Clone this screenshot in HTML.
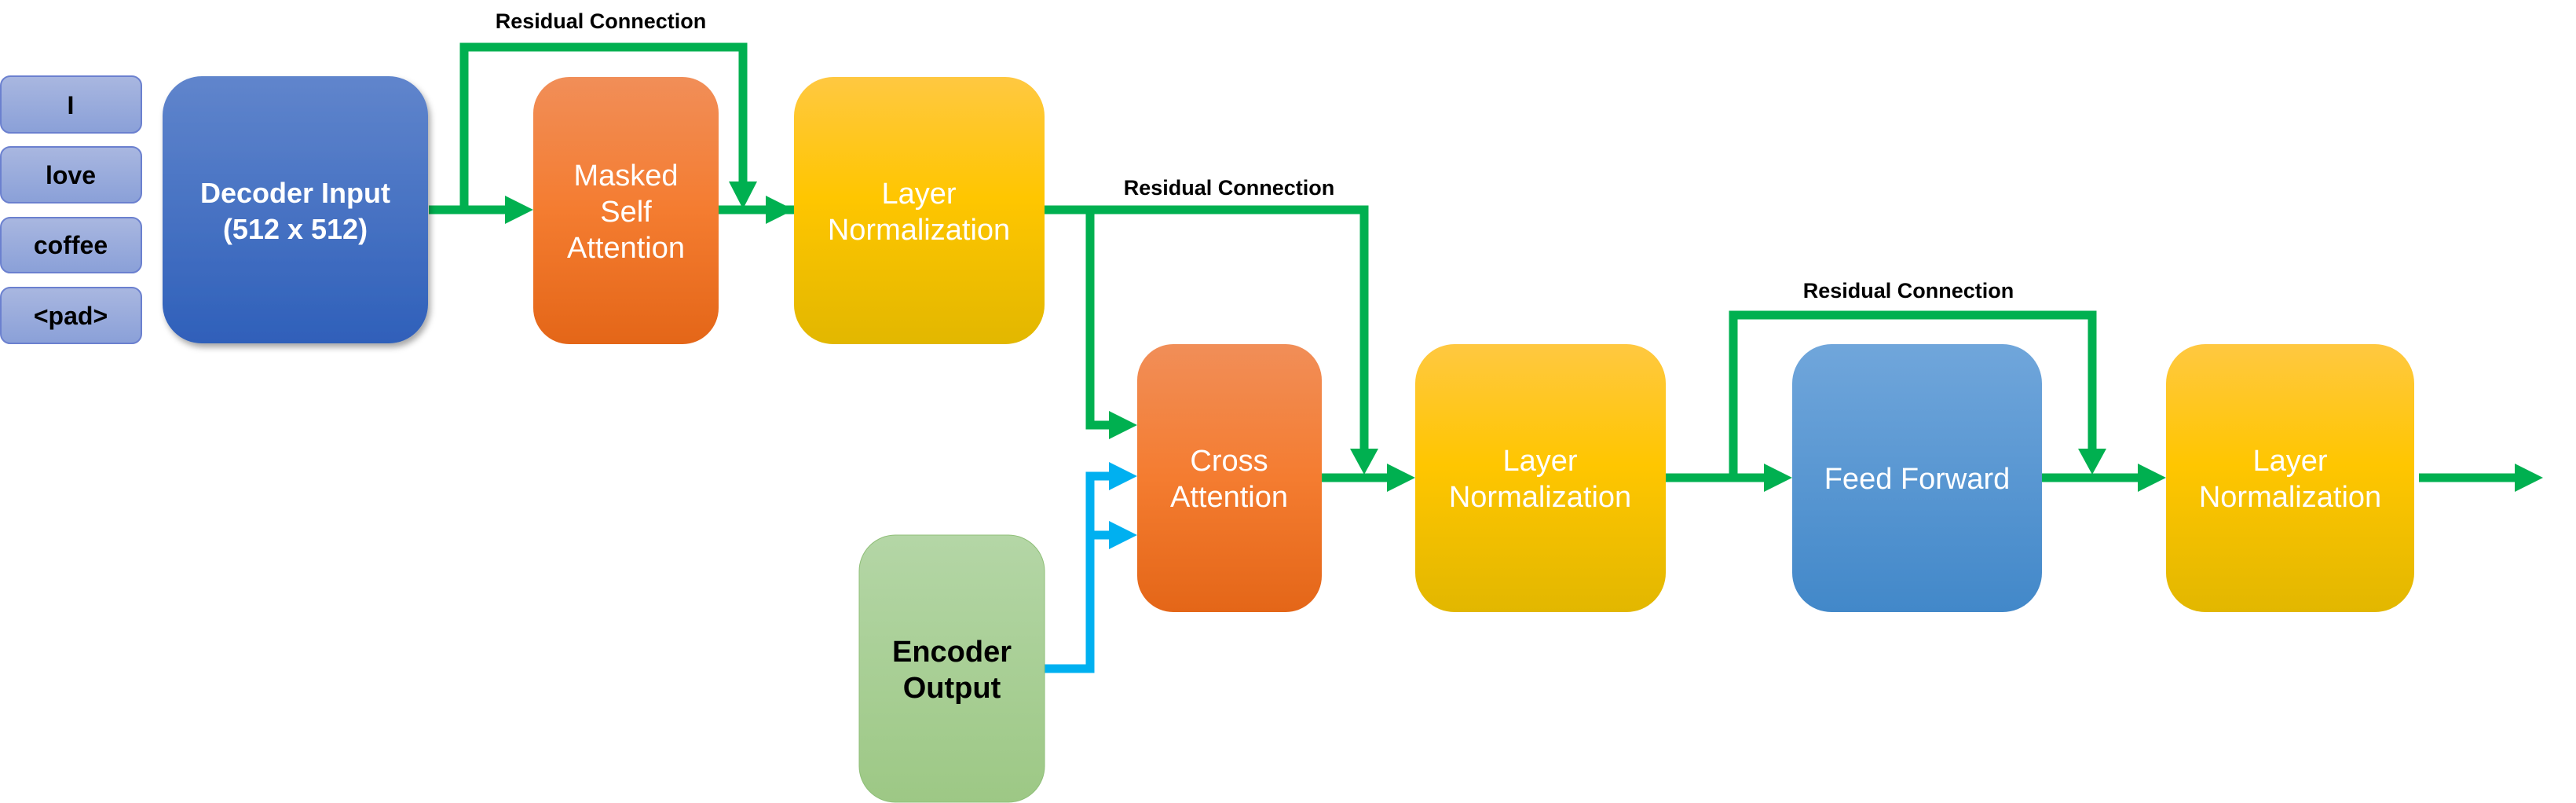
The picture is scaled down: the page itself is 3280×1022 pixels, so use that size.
<!DOCTYPE html>
<html><head><meta charset="utf-8"><style>html,body{margin:0;padding:0;background:#fff}svg{display:block}</style></head>
<body>
<svg width="3280" height="1022" viewBox="0 0 3280 1022" xmlns="http://www.w3.org/2000/svg" font-family="Liberation Sans, sans-serif">
<defs>
<linearGradient id="tok" x1="0" y1="0" x2="0" y2="1"><stop offset="0" stop-color="#a9b7e0"/><stop offset="1" stop-color="#8aa0d8"/></linearGradient>
<linearGradient id="dec" x1="0" y1="0" x2="0" y2="1"><stop offset="0" stop-color="#6085cc"/><stop offset="1" stop-color="#2f60ba"/></linearGradient>
<linearGradient id="org" x1="0" y1="0" x2="0" y2="1"><stop offset="0" stop-color="#f18e58"/><stop offset="0.5" stop-color="#f47c30"/><stop offset="1" stop-color="#e46618"/></linearGradient>
<linearGradient id="yel" x1="0" y1="0" x2="0" y2="1"><stop offset="0" stop-color="#ffc841"/><stop offset="0.45" stop-color="#ffc600"/><stop offset="1" stop-color="#e2b700"/></linearGradient>
<linearGradient id="grn" x1="0" y1="0" x2="0" y2="1"><stop offset="0" stop-color="#b4d6a6"/><stop offset="1" stop-color="#9dc885"/></linearGradient>
<linearGradient id="ff" x1="0" y1="0" x2="0" y2="1"><stop offset="0" stop-color="#70a6db"/><stop offset="1" stop-color="#4288c9"/></linearGradient>
<filter id="sh" x="-10%" y="-10%" width="130%" height="130%"><feDropShadow dx="3" dy="5" stdDeviation="4" flood-color="#000" flood-opacity="0.35"/></filter>
</defs>

<!-- tokens -->
<g stroke="#6b80cf" stroke-width="2" fill="url(#tok)">
<rect x="1" y="97" width="179" height="72" rx="12"/>
<rect x="1" y="187" width="179" height="71" rx="12"/>
<rect x="1" y="277" width="179" height="70" rx="12"/>
<rect x="1" y="366" width="179" height="71" rx="12"/>
</g>
<g font-size="32" font-weight="bold" fill="#000" text-anchor="middle">
<text x="90" y="145">I</text>
<text x="90" y="234">love</text>
<text x="90" y="323">coffee</text>
<text x="90" y="413">&lt;pad&gt;</text>
</g>

<!-- connectors green -->
<g fill="none" stroke="#00b050" stroke-width="11">
<path d="M546 267 H646"/>
<path d="M591 267 V60 H946 V235"/>
<path d="M915 267 H1018"/>
<path d="M1330 267 H1737 V575"/>
<path d="M1388 267 V541 H1415"/>
<path d="M1683 608 H1770"/>
<path d="M2121 608 H2250"/>
<path d="M2207 608 V401 H2664 V575"/>
<path d="M2600 608 H2727"/>
<path d="M3080 608 H3205"/>
</g>
<g fill="#00b050">
<polygon points="643,249 679,267 643,285"/>
<polygon points="1011,249 1047,267 1011,285" transform="translate(-36,0)"/>
<polygon points="928,231 964,231 946,266"/>
<polygon points="1412,523 1448,541 1412,559"/>
<polygon points="1719,571 1755,571 1737,604"/>
<polygon points="1766,590 1802,608 1766,626"/>
<polygon points="2246,590 2282,608 2246,626"/>
<polygon points="2646,571 2682,571 2664,604"/>
<polygon points="2722,590 2758,608 2722,626"/>
<polygon points="3202,590 3238,608 3202,626"/>
</g>
<!-- blue connectors -->
<g fill="none" stroke="#00b0f0" stroke-width="11">
<path d="M1330 851 H1388 V606 H1415"/>
<path d="M1388 681 H1415"/>
</g>
<g fill="#00b0f0">
<polygon points="1412,588 1448,606 1412,624"/>
<polygon points="1412,663 1448,681 1412,699"/>
</g>

<!-- boxes -->
<rect x="207" y="97" width="338" height="340" rx="50" fill="url(#dec)" filter="url(#sh)"/>
<rect x="679" y="98" width="236" height="340" rx="46" fill="url(#org)"/>
<rect x="1011" y="98" width="319" height="340" rx="50" fill="url(#yel)"/>
<rect x="1448" y="438" width="235" height="341" rx="46" fill="url(#org)"/>
<rect x="1802" y="438" width="319" height="341" rx="50" fill="url(#yel)"/>
<rect x="2282" y="438" width="318" height="341" rx="50" fill="url(#ff)"/>
<rect x="2758" y="438" width="316" height="341" rx="50" fill="url(#yel)"/>
<rect x="1094" y="681" width="236" height="340" rx="46" fill="url(#grn)" stroke="#8fbf78" stroke-width="1"/>

<!-- box labels -->
<g font-size="36" font-weight="bold" fill="#fff" text-anchor="middle">
<text x="376" y="258">Decoder Input</text>
<text x="376" y="304">(512 x 512)</text>
</g>
<g font-size="38" fill="#fff" text-anchor="middle">
<text x="797" y="236">Masked</text>
<text x="797" y="282">Self</text>
<text x="797" y="328">Attention</text>
<text x="1170" y="259">Layer</text>
<text x="1170" y="305">Normalization</text>
<text x="1565" y="599">Cross</text>
<text x="1565" y="645">Attention</text>
<text x="1961" y="599">Layer</text>
<text x="1961" y="645">Normalization</text>
<text x="2441" y="622">Feed Forward</text>
<text x="2916" y="599">Layer</text>
<text x="2916" y="645">Normalization</text>
</g>
<g font-size="38" font-weight="bold" fill="#000" text-anchor="middle">
<text x="1212" y="842">Encoder</text>
<text x="1212" y="888">Output</text>
</g>

<!-- residual labels -->
<g font-size="27" font-weight="bold" fill="#000" text-anchor="middle">
<text x="765" y="36">Residual Connection</text>
<text x="1565" y="248">Residual Connection</text>
<text x="2430" y="379">Residual Connection</text>
</g>
</svg>
</body></html>
